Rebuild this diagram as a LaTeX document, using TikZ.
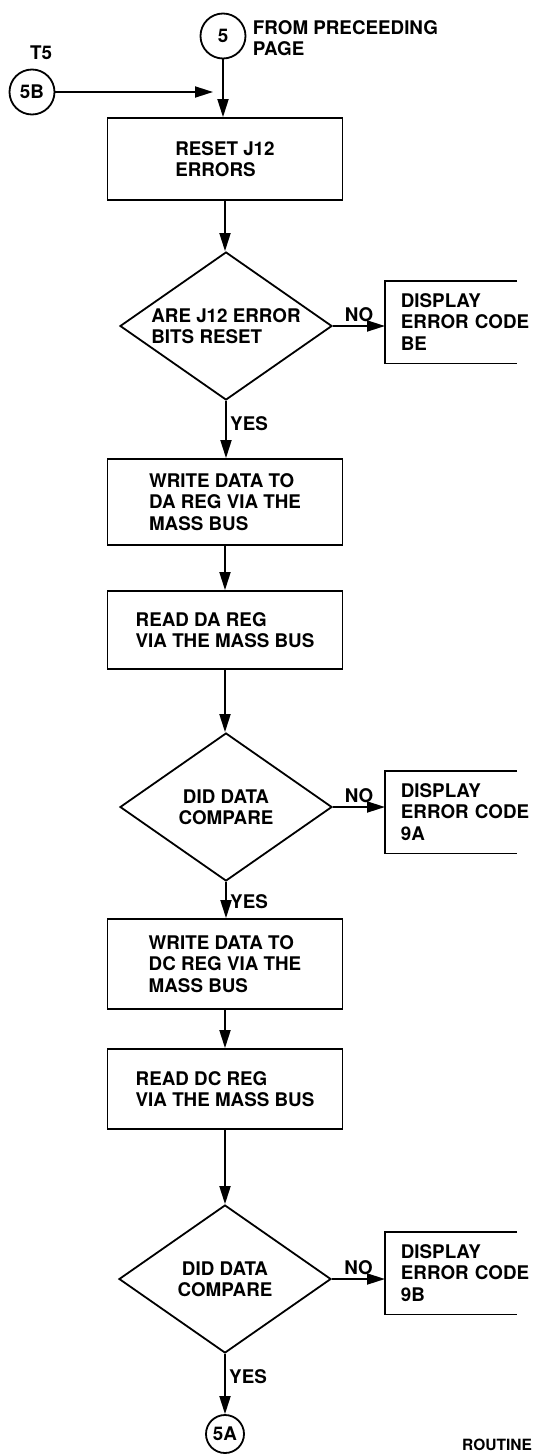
\documentclass[tikz,border=0pt]{standalone}
\usepackage{fontspec}
\setmainfont{TeX Gyre Heros}
\usetikzlibrary{shapes.geometric,arrows.meta}

\begin{document}
\begin{tikzpicture}[x=1pt, y=-1pt, line width=1.8pt,
    font=\fontsize{18.8}{21.5}\selectfont\bfseries,
    >={Triangle[length=18pt, width=11pt]},
    proc/.style={draw, rectangle, minimum width=235pt, align=left, inner sep=0pt},
    test/.style={draw, diamond, aspect=1.45, minimum width=212pt, minimum height=148pt, inner sep=0pt, align=center},
    conn/.style={draw, circle, inner sep=0pt},
    disp/.style={anchor=west, align=left, inner xsep=15pt, inner ysep=0pt, text width=133pt, minimum height=81pt}]
    \useasboundingbox (0, 0) rectangle (533, 1456);
    \clip (0, 0) rectangle (533, 1456);
    % entry points
    \node[conn, minimum size=45pt] (c5) at (223, 36) {5};
    \node[anchor=west, align=left, inner sep=0pt] (from) at (252, 38) {FROM PRECEEDING\\PAGE};
    \node (t5) at (41, 53) {T5};
    \node[conn, minimum size=45pt] (c5b) at (32, 92) {5B};
    \coordinate (join) at (213, 92);
    % main column
    \node[proc, minimum height=82pt] (b1) at (225, 159) {RESET J12\\ERRORS};
    \node[test, align=left] (q1) at (226, 326) {ARE J12 ERROR\\BITS RESET};
    \node[proc, minimum height=86pt] (b2) at (225, 502) {WRITE DATA TO\\DA REG VIA THE\\MASS BUS};
    \node[proc, minimum height=78pt] (b3) at (225, 630) {READ DA REG\\VIA THE MASS BUS};
    \node[test] (q2) at (226, 807) {DID DATA\\COMPARE};
    \node[proc, minimum height=90pt] (b4) at (225, 964) {WRITE DATA TO\\DC REG VIA THE\\MASS BUS};
    \node[proc, minimum height=80pt] (b5) at (225, 1089) {READ DC REG\\VIA THE MASS BUS};
    \node[test] (q3) at (225, 1279) {DID DATA\\COMPARE};
    \node[conn, minimum size=38pt] (c5a) at (225, 1434) {5A};
    % error displays, open on the right
    \node[disp] (d1) at (385, 322) {DISPLAY\\ERROR CODE\\BE};
    \node[disp] (d2) at (385, 812) {DISPLAY\\ERROR CODE\\9A};
    \node[disp] (d3) at (385, 1273) {DISPLAY\\ERROR CODE\\9B};
    \foreach \d in {d1, d2, d3} {
      \draw ([xshift=132pt]\d.north west) -- (\d.north west) -- (\d.south west) -- ([xshift=132pt]\d.south west);
      }
    \node[anchor=west, font=\fontsize{15.5}{18}\selectfont\bfseries] (rt) at (458, 1445) {ROUTINE 3};
    % flow
    \draw[->] (c5b) -- (join);
    \draw[->] (c5.south) -- (c5.south |- b1.north);
    \draw[->] (b1) -- (b1 |- q1.north);
    \draw[->] (q1) -- node[right, pos=.4] {YES} (q1 |- b2.north);
    \draw[->] (b2) -- (b2 |- b3.north);
    \draw[->] (b3) -- (b3 |- q2.north);
    \draw[->] (q2) -- node[right, pos=.55] {YES} (q2 |- b4.north);
    \draw[->] (b4) -- (b4 |- b5.north);
    \draw[->] (b5) -- (b5 |- q3.north);
    \draw[->] (q3) -- node[right, pos=.37] {YES} (c5a);
    \foreach \q/\d in {q1/d1, q2/d2, q3/d3} {
      \draw[->] (\q.east) -- node[above] {NO} (\q.east -| \d.west);
      }
  \end{tikzpicture}
\end{document}
